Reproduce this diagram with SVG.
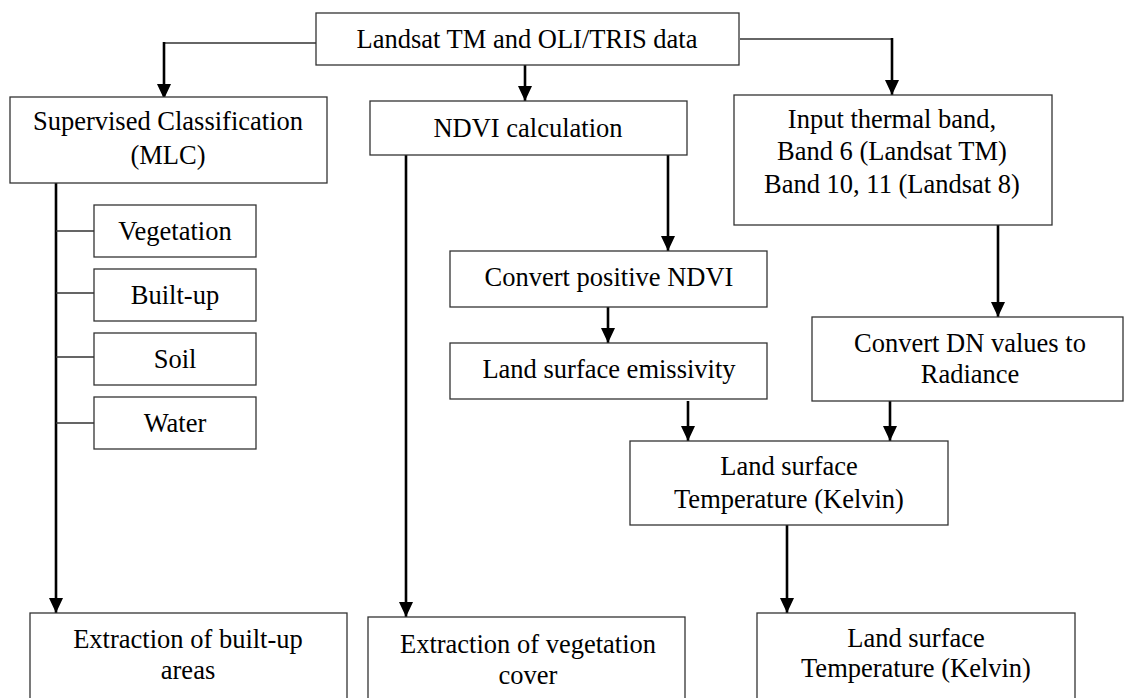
<svg xmlns="http://www.w3.org/2000/svg" width="1125" height="698" viewBox="0 0 1125 698">
<defs>
<marker id="ah" viewBox="0 0 15 14" refX="15" refY="7" markerWidth="15" markerHeight="14" markerUnits="userSpaceOnUse" orient="auto">
<path d="M0,0 L15,7 L0,14 z" fill="#000"/>
</marker>
<style>
.box{fill:#fff;stroke:#333;stroke-width:1.3}
.t{font-family:"Liberation Serif","Times New Roman",serif;font-size:26.5px;fill:#000;text-anchor:middle}
.arr{fill:none;stroke:#000;stroke-width:2.6;marker-end:url(#ah)}
.thin{fill:none;stroke:#333;stroke-width:1.4}
</style>
</defs>
<rect width="1125" height="698" fill="#fff"/>
<g id="connectors">
<path class="thin" d="M316,43 H164"/>
<path class="arr" d="M164,42 V99"/>
<path class="arr" d="M525,65 V101"/>
<path class="thin" d="M740,39 H892"/>
<path class="arr" d="M892,38 V95"/>
<path class="arr" d="M56,183 V613"/>
<path class="thin" d="M56,231 H94 M56,293 H94 M56,357 H94 M56,423 H94"/>
<path class="arr" d="M406,155 V617"/>
<path class="arr" d="M668,155 V251"/>
<path class="arr" d="M608,307 V343"/>
<path class="arr" d="M688,401 V441"/>
<path class="arr" d="M998,225 V317"/>
<path class="arr" d="M890,401 V441"/>
<path class="arr" d="M787,525 V613"/>
</g>
<g id="landsat">
<rect class="box" x="316" y="13" width="423" height="52"/>
<text class="t" x="527" y="48">Landsat TM and OLI/TRIS data</text>
</g>
<g id="supervised">
<rect class="box" x="10" y="97" width="317" height="86"/>
<text class="t" x="168" y="130">Supervised Classification</text>
<text class="t" x="168" y="164">(MLC)</text>
</g>
<g id="vegetation">
<rect class="box" x="94" y="205" width="162" height="52"/>
<text class="t" x="175" y="240">Vegetation</text>
</g>
<g id="builtup">
<rect class="box" x="94" y="269" width="162" height="52"/>
<text class="t" x="175" y="304">Built-up</text>
</g>
<g id="soil">
<rect class="box" x="94" y="333" width="162" height="52"/>
<text class="t" x="175" y="368">Soil</text>
</g>
<g id="water">
<rect class="box" x="94" y="397" width="162" height="52"/>
<text class="t" x="175" y="432">Water</text>
</g>
<g id="ndvi">
<rect class="box" x="370" y="101" width="317" height="54"/>
<text class="t" x="528" y="137">NDVI calculation</text>
</g>
<g id="thermal">
<rect class="box" x="734" y="95" width="318" height="130"/>
<text class="t" x="892" y="128">Input thermal band,</text>
<text class="t" x="892" y="160">Band 6 (Landsat TM)</text>
<text class="t" x="892" y="193">Band 10, 11 (Landsat 8)</text>
</g>
<g id="positive-ndvi">
<rect class="box" x="450" y="251" width="317" height="56"/>
<text class="t" x="609" y="286">Convert positive NDVI</text>
</g>
<g id="emissivity">
<rect class="box" x="450" y="343" width="317" height="56"/>
<text class="t" x="609" y="378">Land surface emissivity</text>
</g>
<g id="radiance">
<rect class="box" x="812" y="317" width="311" height="84"/>
<text class="t" x="970" y="352">Convert DN values to</text>
<text class="t" x="970" y="383">Radiance</text>
</g>
<g id="lst">
<rect class="box" x="630" y="441" width="318" height="84"/>
<text class="t" x="789" y="475">Land surface</text>
<text class="t" x="789" y="508">Temperature (Kelvin)</text>
</g>
<g id="extract-builtup">
<rect class="box" x="30" y="613" width="317" height="100"/>
<text class="t" x="188" y="648">Extraction of built-up</text>
<text class="t" x="188" y="679">areas</text>
</g>
<g id="extract-vegetation">
<rect class="box" x="368" y="617" width="317" height="100"/>
<text class="t" x="528" y="653">Extraction of vegetation</text>
<text class="t" x="528" y="684">cover</text>
</g>
<g id="lst-out">
<rect class="box" x="757" y="613" width="318" height="100"/>
<text class="t" x="916" y="647">Land surface</text>
<text class="t" x="916" y="677">Temperature (Kelvin)</text>
</g>
</svg>
